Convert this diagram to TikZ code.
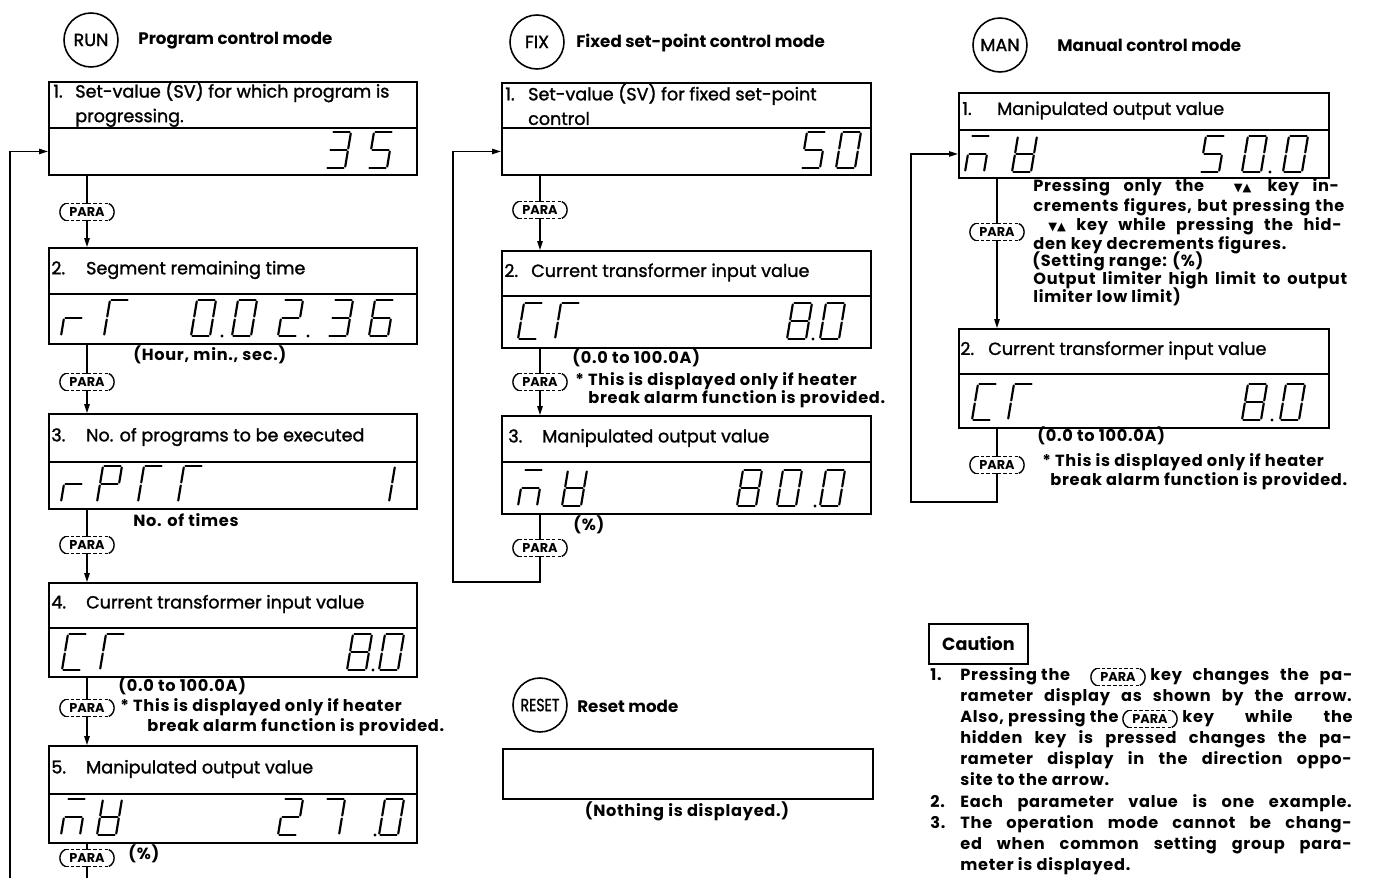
\documentclass[tikz,border=0pt]{standalone}
\usepackage{fontspec}
\setmainfont{Poppins}
\newfontfamily\symf{DejaVu Sans}
\newfontfamily\ttlfam[FakeBold=1.4]{Poppins}
\newfontfamily\notefam[LetterSpace=4.5]{Poppins}
\usetikzlibrary{arrows.meta}
\newcommand\ttlf{\ttlfam\fontsize{10}{14}\selectfont}
\newcommand\headf{\bfseries\fontsize{9.5}{11}\selectfont}
\newcommand\notef{\notefam\bfseries\fontsize{9.2}{11}\selectfont}
\newcommand\modef{\ttlfam\fontsize{10}{11}\selectfont}
\newcommand\pkf{\bfseries\fontsize{7.3}{8}\selectfont}
\newcommand\tri{{\symf\fontsize{6.5}{6.5}\selectfont ▼▲}}
% seven-segment characters
\def\dgZ{a,b,c,d,e,f}
\def\dgOne{b,c}
\def\dgTwo{a,b,g,e,d}
\def\dgThree{a,b,c,d,g}
\def\dgFive{a,f,g,c,d}
\def\dgSix{a,f,g,e,c,d}
\def\dgSeven{a,b,c}
\def\dgEight{a,b,c,d,e,f,g}
\def\dgr{e,g}
\def\dgT{a,f,e}
\def\dgC{a,f,e,d}
\def\dgP{a,b,f,g,e}
\def\dgm{a,c,e,g}
\def\dgV{b,c,d,e,f,g}
\newcommand\dseg[1]{%
 \if#1a\draw[seg] (1.5,-36)--(17.5,-36);\fi
 \if#1b\draw[seg] (19,-34.5)--(19,-19.5);\fi
 \if#1c\draw[seg] (19,-16.5)--(19,-1.5);\fi
 \if#1d\draw[seg] (1.5,0)--(17.5,0);\fi
 \if#1e\draw[seg] (0,-1.5)--(0,-16.5);\fi
 \if#1f\draw[seg] (0,-19.5)--(0,-34.5);\fi
 \if#1g\draw[seg] (1.5,-18)--(17.5,-18);\fi}
\newcommand\dig[3]{\begin{scope}[shift={(#1,#2)},xslant=0.1667]\foreach \s in #3 {\dseg{\s}}\end{scope}}
\newcommand\dpt[2]{\fill (#1,#2) circle (1.6);}
% boxes: name, x, ytop, width, height
\newcommand\bx[5]{\pgfmathsetlengthmacro\bw{#4*0.02cm}\pgfmathsetlengthmacro\bh{#5*0.02cm}%
 \node[box, minimum width=\bw, minimum height=\bh] (#1) at (#2,#3) {};}
\begin{document}
\begin{tikzpicture}[x=0.02cm,y=-0.02cm,
  box/.style={draw, line width=1.1pt, inner sep=0pt, anchor=north west},
  ttl/.style={font=\ttlf, anchor=west, inner sep=0pt, align=left},
  note/.style={font=\notef, anchor=base west, inner sep=0pt},
  head/.style={font=\headf, anchor=west, inner sep=0pt},
  mode/.style={draw, circle, line width=0.9pt, minimum size=1.08cm, inner sep=0pt, font=\modef},
  seg/.style={line width=1.25pt, line cap=round},
  conn/.style={line width=0.8pt},
  arr/.style={conn, -{Triangle[length=5pt,width=3pt]}},
  pk/.style={font=\pkf, inner sep=0pt, minimum width=0.86cm, minimum height=0.32cm,
    append after command={
      (\tikzlastnode.north west) edge[pkp] (\tikzlastnode.south west)
      (\tikzlastnode.north east) edge[pkq] (\tikzlastnode.south east)
      (\tikzlastnode.north west) edge[pkd] (\tikzlastnode.north east)
      (\tikzlastnode.south west) edge[pkd] (\tikzlastnode.south east)}},
  pkp/.style={draw, solid, line width=0.8pt, to path={.. controls +(-7,3) and +(-7,-3) .. (\tikztotarget)}},
  pkq/.style={draw, solid, line width=0.8pt, to path={.. controls +(7,3) and +(7,-3) .. (\tikztotarget)}},
  pkd/.style={draw, line width=0.8pt, dash pattern=on 2pt off 1.2pt}
]
\fill[white] (0,0) rectangle (1374,878);
\useasboundingbox (0,0) rectangle (1374,878);

% ================= RUN =================
\node[mode] (crun) at (91,40) {RUN};
\node[head] (hrun) at (138,41) {Program control mode};

\bx{r1t}{48}{81}{368}{46}
\bx{r1d}{48}{127}{368}{47}
\node[ttl] (r1x) at (53,104) {\makebox[12.5pt][l]{1.}Set-value (SV) for which program is\\\hspace*{12.5pt}progressing.};
\dig{326}{168}{\dgThree}\dig{368}{168}{\dgFive}

\bx{r2t}{48}{247}{368}{46}
\bx{r2d}{48}{293}{368}{50}
\node[ttl] (r2x) at (51,270) {\makebox[19.8pt][l]{2.}Segment remaining time};
\dig{61}{336}{\dgr}\dig{104}{336}{\dgT}\dig{191}{336}{\dgZ}\dpt{222}{336}\dig{232}{336}{\dgZ}
\dig{278}{336}{\dgTwo}\dpt{308}{336}\dig{328}{336}{\dgThree}\dig{369}{336}{\dgSix}
\node[note] (n2) at (133,361) {(Hour, min., sec.)};

\bx{r3t}{48}{413}{368}{48}
\bx{r3d}{48}{461}{368}{47}
\node[ttl] (r3x) at (51,437) {\makebox[19.8pt][l]{3.}No. of programs to be executed};
\dig{61}{502}{\dgr}\dig{97}{502}{\dgP}\dig{138}{502}{\dgT}\dig{178}{502}{\dgT}\dig{370}{502}{\dgOne}
\node[note] (n3) at (133,527) {No. of times};

\bx{r4t}{48}{582}{368}{45}
\bx{r4d}{48}{627}{368}{49}
\node[ttl] (r4x) at (51,604) {\makebox[19.8pt][l]{4.}Current transformer input value};
\dig{62}{670}{\dgC}\dig{100}{670}{\dgT}\dig{347}{670}{\dgEight}\dpt{373}{670}\dig{379}{670}{\dgZ}
\node[note] (n4a) at (118,692) {(0.0 to 100.0A)};
\node[note] (n4b) at (120,712) {* This is displayed only if heater};
\node[note] (n4c) at (147,732) {break alarm function is provided.};

\bx{r5t}{48}{745}{368}{48}
\bx{r5d}{48}{793}{368}{49}
\node[ttl] (r5x) at (51,769) {\makebox[19.8pt][l]{5.}Manipulated output value};
\dig{61}{835}{\dgm}\dig{97}{835}{\dgV}\dig{278}{835}{\dgTwo}\dig{320}{835}{\dgSeven}\dpt{375}{835}\dig{379}{835}{\dgZ}
\node[note] (n5) at (128,859) {(\%)};

\node[pk] (rp1) at (87,212) {PARA};
\node[pk] (rp2) at (87,382) {PARA};
\node[pk] (rp3) at (87,545) {PARA};
\node[pk] (rp4) at (87,708) {PARA};
\node[pk] (rp5) at (87,858) {PARA};
\draw[conn] (r1d.south -| rp1) -- (rp1.north);
\draw[arr] (rp1.south) -- (rp1.south |- r2t.north);
\draw[conn] (r2d.south -| rp2) -- (rp2.north);
\draw[arr] (rp2.south) -- (rp2.south |- r3t.north);
\draw[conn] (r3d.south -| rp3) -- (rp3.north);
\draw[arr] (rp3.south) -- (rp3.south |- r4t.north);
\draw[conn] (r4d.south -| rp4) -- (rp4.north);
\draw[arr] (rp4.south) -- (rp4.south |- r5t.north);
\draw[conn] (r5d.south -| rp5) -- (rp5.north);
\coordinate (rend) at (87,878);
\coordinate (rloop) at (10,878);
\draw[conn] (rp5.south) -- (rend);
\draw[arr] (rloop) |- (r1d.west);

% ================= FIX =================
\node[mode] (cfix) at (537,42) {FIX};
\node[head] (hfix) at (576,43) {Fixed set-point control mode};

\bx{f1t}{501}{82}{369}{45}
\bx{f1d}{501}{127}{369}{47}
\node[ttl] (f1x) at (505,104.5) {\makebox[13pt][l]{1.}Set-value (SV) for fixed set-point\\\hspace*{13pt}control};
\dig{801}{168}{\dgFive}\dig{836}{168}{\dgZ}

\bx{f2t}{501}{250}{369}{45}
\bx{f2d}{501}{295}{369}{52}
\node[ttl] (f2x) at (504,272.5) {\makebox[15.3pt][l]{2.}Current transformer input value};
\dig{518}{339}{\dgC}\dig{555}{339}{\dgT}\dig{787}{339}{\dgEight}\dpt{813}{339}\dig{820}{339}{\dgZ}
\node[note] (fn2a) at (572,364) {(0.0 to 100.0A)};
\node[note] (fn2b) at (575,386) {* This is displayed only if heater};
\node[note] (fn2c) at (588,404) {break alarm function is provided.};

\bx{f3t}{501}{415}{369}{46}
\bx{f3d}{501}{461}{369}{52}
\node[ttl] (f3x) at (508,438) {\makebox[19.3pt][l]{3.}Manipulated output value};
\dig{518}{506}{\dgm}\dig{562}{506}{\dgV}\dig{737}{506}{\dgEight}\dig{777}{506}{\dgZ}\dpt{815}{506}\dig{820}{506}{\dgZ}
\node[note] (fn3) at (573,531) {(\%)};

\node[pk] (fp1) at (540,210) {PARA};
\node[pk] (fp2) at (540,382) {PARA};
\node[pk] (fp3) at (540,548) {PARA};
\draw[conn] (f1d.south -| fp1) -- (fp1.north);
\draw[arr] (fp1.south) -- (fp1.south |- f2t.north);
\draw[conn] (f2d.south -| fp2) -- (fp2.north);
\draw[arr] (fp2.south) -- (fp2.south |- f3t.north);
\draw[conn] (f3d.south -| fp3) -- (fp3.north);
\coordinate (fc) at (453,582);
\draw[arr] (fp3.south) |- (fc) |- (f1d.west);

% ================= MAN =================
\node[mode] (cman) at (1000,45) {MAN};
\node[head] (hman) at (1057,45) {Manual control mode};

\bx{m1t}{958}{92}{370}{37}
\bx{m1d}{958}{129}{370}{48}
\node[ttl] (m1x) at (962,110.5) {\makebox[19.8pt][l]{1.}Manipulated output value};
\dig{965}{172}{\dgm}\dig{1012}{172}{\dgV}\dig{1200}{172}{\dgFive}\dig{1242}{172}{\dgZ}\dpt{1270}{172}\dig{1283}{172}{\dgZ}

\node[note] (mn1) at (1033,192) {\makebox[174pt][s]{Pressing only the \quad\tri\quad key in-}};
\node[note] (mn2) at (1033,212) {\makebox[177pt][s]{crements figures, but pressing the}};
\node[note] (mn3) at (1048,231) {\makebox[167pt][s]{\tri\ key while pressing the hid-}};
\node[note] (mn4) at (1033,250) {den key decrements figures.};
\node[note] (mn5) at (1032,267) {(Setting range: (\%)};
\node[note] (mn6) at (1033,285) {\makebox[178.6pt][s]{Output limiter high limit to output}};
\node[note] (mn7) at (1033,303) {limiter low limit)};

\bx{m2t}{958}{328}{370}{45}
\bx{m2d}{958}{373}{370}{54}
\node[ttl] (m2x) at (960,350.5) {\makebox[15.9pt][l]{2.}Current transformer input value};
\dig{972}{420}{\dgC}\dig{1008}{420}{\dgT}\dig{1242}{420}{\dgEight}\dpt{1272}{420}\dig{1280}{420}{\dgZ}
\node[note] (mn8) at (1037,442) {(0.0 to 100.0A)};
\node[note] (mn9) at (1042,467) {* This is displayed only if heater};
\node[note] (mn10) at (1050,486) {break alarm function is provided.};

\node[pk] (mp1) at (997,232) {PARA};
\node[pk] (mp2) at (997,465) {PARA};
\draw[conn] (m1d.south -| mp1) -- (mp1.north);
\draw[arr] (mp1.south) -- (mp1.south |- m2t.north);
\draw[conn] (m2d.south -| mp2) -- (mp2.north);
\coordinate (mc) at (911,502);
\draw[arr] (mp2.south) |- (mc) |- (m1d.west);

% ================= RESET =================
\node[mode] (creset) at (540,705) {\scalebox{0.8}[1]{RESET}};
\node[head] (hreset) at (577,706) {Reset mode};
\bx{rs}{502}{748}{370}{50}
\node[note, anchor=base] (rsn) at (687,816) {(Nothing is displayed.)};

% ================= Caution =================
\node[box, minimum width=1.98cm, minimum height=0.8cm, font=\bfseries\fontsize{10}{12}\selectfont] (caut) at (928,623) {Caution};
\node[note] (c1n) at (930,681) {1.};
\node[note] (c1a) at (960,681) {Pressing the};
\node[pk] (pk1) at (1118,677) {PARA};
\node[note] (c1b) at (1150,681) {\makebox[115pt][s]{key changes the pa-}};
\node[note] (c1c) at (960,702) {\makebox[222.8pt][s]{rameter display as shown by the arrow.}};
\node[note] (c1d) at (960,723) {Also, pressing the};
\node[pk] (pk2) at (1150,719) {PARA};
\node[note] (c1e) at (1182,723) {\makebox[96.9pt][s]{key while the}};
\node[note] (c1f) at (960,744) {\makebox[222.8pt][s]{hidden key is pressed changes the pa-}};
\node[note] (c1g) at (960,765) {\makebox[222.8pt][s]{rameter display in the direction oppo-}};
\node[note] (c1h) at (960,786) {site to the arrow.};
\node[note] (c2n) at (930,807) {2.};
\node[note] (c2a) at (960,807) {\makebox[222.8pt][s]{Each parameter value is one example.}};
\node[note] (c3n) at (930,828) {3.};
\node[note] (c3a) at (960,828) {\makebox[222.8pt][s]{The operation mode cannot be chang-}};
\node[note] (c3b) at (960,849) {\makebox[222.8pt][s]{ed when common setting group para-}};
\node[note] (c3c) at (960,870) {meter is displayed.};
\end{tikzpicture}
\end{document}
